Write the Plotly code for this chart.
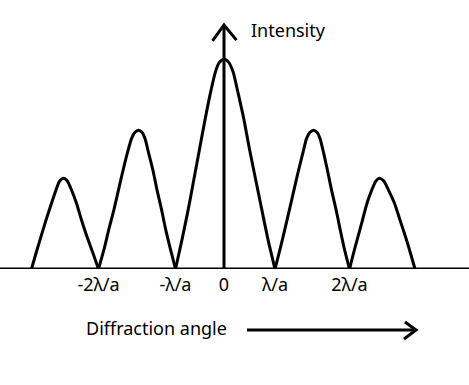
import plotly.graph_objects as go

# Angle in units of lambda/a (approx), intensity relative to central maximum
outer_left_x = [-3.85, -3.76, -3.66, -3.56, -3.45, -3.36, -3.29, -3.21, -3.13, -3.05, -2.95, -2.85, -2.74, -2.62, -2.51]
outer_left_y = [0.0, 0.075, 0.154, 0.233, 0.313, 0.376, 0.418, 0.432, 0.418, 0.376, 0.313, 0.233, 0.154, 0.075, 0.0]

inner_left_x = [-2.51, -2.40, -2.30, -2.20, -2.11, -2.02, -1.93, -1.85, -1.78, -1.71,
                -1.64, -1.58, -1.51, -1.42, -1.34, -1.25, -1.17, -1.07, -0.97]
inner_left_y = [0.0, 0.093, 0.192, 0.284, 0.377, 0.469, 0.555, 0.621, 0.651, 0.661,
                0.651, 0.621, 0.555, 0.469, 0.377, 0.284, 0.192, 0.093, 0.0]

central_x = [-0.97, -0.84, -0.71, -0.60, -0.49, -0.38, -0.27, -0.17, -0.09, 0.0,
             0.09, 0.18, 0.28, 0.40, 0.51, 0.63, 0.75, 0.88, 1.02]
central_y = [0.0, 0.14, 0.29, 0.43, 0.57, 0.71, 0.84, 0.94, 0.985, 1.0,
             0.985, 0.94, 0.84, 0.71, 0.57, 0.43, 0.29, 0.14, 0.0]

inner_right_x = [1.02, 1.12, 1.22, 1.31, 1.40, 1.49, 1.58, 1.65, 1.72, 1.79,
                 1.86, 1.92, 1.99, 2.07, 2.15, 2.24, 2.32, 2.41, 2.51]
inner_right_y = [0.0, 0.093, 0.192, 0.284, 0.377, 0.469, 0.555, 0.621, 0.651, 0.661,
                 0.651, 0.621, 0.555, 0.469, 0.377, 0.284, 0.192, 0.093, 0.0]

outer_right_x = [2.51, 2.59, 2.68, 2.77, 2.86, 2.955, 3.035, 3.11, 3.20, 3.29, 3.41, 3.52, 3.63, 3.73, 3.82]
outer_right_y = [0.0, 0.075, 0.154, 0.233, 0.313, 0.376, 0.418, 0.432, 0.418, 0.376, 0.313, 0.233, 0.154, 0.075, 0.0]

tick_vals = [-2.51, -0.97, 0.0, 1.02, 2.51]
tick_text = ["-2λ/a", "-λ/a", "0", "λ/a", "2λ/a"]

W, H = 469, 385
FONT = "Noto Sans"
FS = 18

fig = go.Figure()
for xs, ys in [(outer_left_x, outer_left_y), (inner_left_x, inner_left_y),
               (central_x, central_y), (inner_right_x, inner_right_y),
               (outer_right_x, outer_right_y)]:
    fig.add_trace(go.Scatter(x=xs, y=ys, mode="lines",
                             line=dict(color="black", width=3, shape="spline", smoothing=0.6),
                             hoverinfo="skip", showlegend=False))

def px(xp):
    return xp / W

def py(yp):
    return 1 - yp / H

shapes = [
    # baseline
    dict(type="line", xref="paper", yref="y", x0=0, x1=1, y0=0, y1=0,
         line=dict(color="black", width=3)),
    # vertical intensity axis
    dict(type="line", xref="x", yref="y", x0=0, x1=0, y0=0, y1=1.162,
         line=dict(color="black", width=3)),
    dict(type="path", xref="x", yref="y",
         path="M -0.23 1.086 L 0 1.162 L 0.25 1.090",
         line=dict(color="black", width=3)),
    # diffraction angle arrow
    dict(type="line", xref="paper", yref="paper", x0=px(247), x1=px(416), y0=py(330), y1=py(330),
         line=dict(color="black", width=3)),
    dict(type="path", xref="paper", yref="paper",
         path=f"M {px(405)} {py(322)} L {px(416)} {py(330)} L {px(404)} {py(339)}",
         line=dict(color="black", width=3)),
]

annotations = [
    dict(text="Intensity", xref="x", yref="paper", x=0.50, y=py(30), xanchor="left",
         yanchor="middle", showarrow=False, font=dict(family=FONT, size=FS, color="black")),
    dict(text="Diffraction angle", xref="paper", yref="paper", x=px(84), y=py(328),
         xanchor="left", yanchor="middle", showarrow=False,
         font=dict(family=FONT, size=FS, color="black")),
]

fig.update_layout(
    width=W, height=H,
    margin=dict(l=0, r=0, t=0, b=0),
    paper_bgcolor="white", plot_bgcolor="white",
    shapes=shapes, annotations=annotations,
    xaxis=dict(range=[-224 / 50, (W - 224) / 50], showgrid=False, zeroline=False,
               showline=False, tickmode="array", tickvals=tick_vals, ticktext=tick_text,
               ticks="", ticklabelstandoff=3,
               tickfont=dict(family=FONT, size=FS, color="black")),
    yaxis=dict(domain=[(H - 269) / H, 1], range=[0, 269 / 210], showgrid=False,
               zeroline=False, showline=False, showticklabels=False, ticks=""),
)

fig.write_html("out.html")
